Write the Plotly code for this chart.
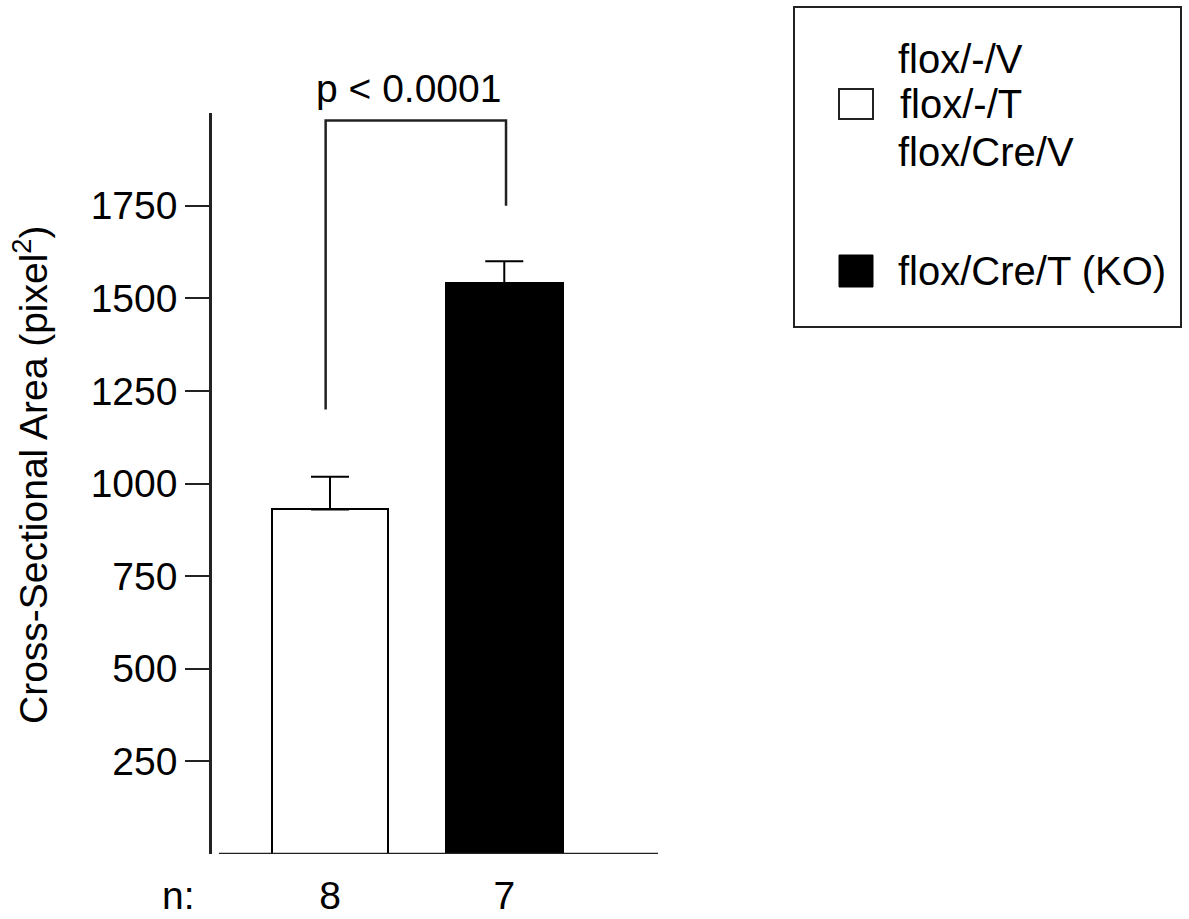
import plotly.graph_objects as go

# ---- data ----
groups = ["flox/-/V + flox/-/T + flox/Cre/V", "flox/Cre/T (KO)"]
x_pos = [0, 1]
means = [930, 1540]
sems = [88, 60]
n_labels = ["8", "7"]
bar_fills = ["white", "black"]
y_ticks = [250, 500, 750, 1000, 1250, 1500, 1750]
p_text = "p < 0.0001"
bracket_left_y = 1200
bracket_top_y = 1980
bracket_right_y = 1750
legend_lines_white = ["flox/-/V", "flox/-/T", "flox/Cre/V"]
legend_line_black = "flox/Cre/T (KO)"

W, H = 1189, 919
L, R, T, B = 212, 658, 113, 854  # plot area in pixels
FONT = "Liberation Sans, Arial, Helvetica, sans-serif"


def px(x):
    return (x - L) / (R - L)


def py(y):
    return (B - y) / (B - T)


fig = go.Figure()
fig.add_trace(go.Bar(
    x=x_pos, y=means, width=0.669,
    marker=dict(color=bar_fills, line=dict(color="black", width=2)),
    error_y=dict(type="data", array=sems, arrayminus=[0, 0], symmetric=False,
                 color="black", thickness=2, width=19),
    showlegend=False,
))

shapes = []
# x axis line (starts slightly right of y axis)
shapes.append(dict(type="line", xref="paper", yref="y", x0=px(219), x1=1, y0=0, y1=0,
                   line=dict(color="#222", width=2.5)))
# significance bracket
shapes.append(dict(type="path", xref="x", yref="y",
                   path=f"M -0.025,{bracket_left_y} L -0.025,{bracket_top_y} L 1.01,{bracket_top_y} L 1.01,{bracket_right_y}",
                   line=dict(color="#222", width=2.5)))
# legend box
shapes.append(dict(type="rect", xref="paper", yref="paper", x0=px(794), x1=px(1181),
                   y0=py(327), y1=py(7), line=dict(color="#222", width=2)))
shapes.append(dict(type="rect", xref="paper", yref="paper", x0=px(839), x1=px(873),
                   y0=py(119), y1=py(89), line=dict(color="#222", width=2), fillcolor="white"))
shapes.append(dict(type="rect", xref="paper", yref="paper", x0=px(839), x1=px(873),
                   y0=py(287), y1=py(255), line=dict(color="black", width=1), fillcolor="black"))

ann = []
ann.append(dict(text=p_text, xref="paper", yref="paper", x=px(408), y=py(89),
                xanchor="center", yanchor="middle", showarrow=False,
                font=dict(size=39, color="black", family=FONT)))
ann.append(dict(text="n:", xref="paper", yref="paper", x=px(178), y=py(895),
                xanchor="center", yanchor="middle", showarrow=False,
                font=dict(size=39, color="black", family=FONT)))
ann.append(dict(text="Cross-Sectional Area (pixel<sup>2</sup>)", xref="paper", yref="paper",
                x=px(31), y=py(475), xanchor="center", yanchor="middle", textangle=-90,
                showarrow=False, font=dict(size=39, color="black", family=FONT)))
for txt, yc, xl in zip(legend_lines_white, [59, 104, 152], [896, 898, 896]):
    ann.append(dict(text=txt, xref="paper", yref="paper", x=px(xl), y=py(yc),
                    xanchor="left", yanchor="middle", showarrow=False,
                    font=dict(size=40, color="black", family=FONT)))
ann.append(dict(text=legend_line_black, xref="paper", yref="paper", x=px(896), y=py(271),
                xanchor="left", yanchor="middle", showarrow=False,
                font=dict(size=40, color="black", family=FONT)))

fig.update_layout(
    width=W, height=H,
    margin=dict(l=L, r=W - R, t=T, b=H - B, pad=0),
    paper_bgcolor="white", plot_bgcolor="white",
    font=dict(family=FONT, color="black"),
    shapes=shapes, annotations=ann,
    bargap=0,
)
fig.update_xaxes(range=[-0.677, 1.882], tickvals=x_pos, ticktext=n_labels,
                 showline=False, showgrid=False, zeroline=False, ticks="",
                 ticklabelstandoff=15, automargin=False,
                 tickfont=dict(size=39, family=FONT, color="black"))
fig.update_yaxes(range=[0, 2000], tickvals=y_ticks, showline=True, linecolor="#222", linewidth=2.5,
                 ticks="outside", ticklen=24, tickwidth=2, tickcolor="#222",
                 showgrid=False, zeroline=False, automargin=False,
                 tickfont=dict(size=39, family=FONT, color="black"))

fig.write_html("out.html")
